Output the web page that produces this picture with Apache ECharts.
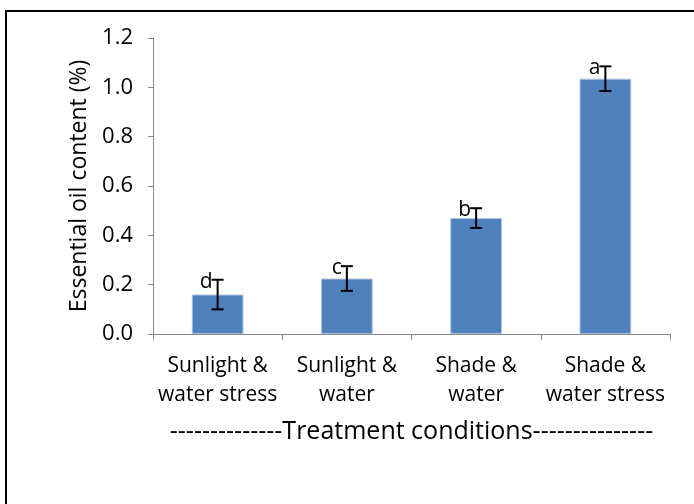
<!DOCTYPE html>
<html>
<head>
<meta charset="utf-8">
<script src="https://cdn.jsdelivr.net/npm/echarts@6/dist/echarts.min.js"></script>
<style>
  html, body { margin: 0; padding: 0; background: #fff; }
  #main { width: 694px; height: 504px; }
</style>
</head>
<body>
<div id="main"></div>
<script>
// treatment groups
var categories = ['Sunlight &\nwater stress', 'Sunlight &\nwater', 'Shade &\nwater', 'Shade &\nwater stress'];
// mean essential oil content (%)
var oilContent = [0.16, 0.225, 0.47, 1.035];
// error (+/-)
var oilError = [0.06, 0.05, 0.04, 0.05];
// significance letters
var letters = ['d', 'c', 'b', 'a'];

var errorData = oilContent.map(function (v, i) {
    return [i, v - oilError[i], v + oilError[i], letters[i]];
});

var myChart = echarts.init(document.getElementById('main'));
var font = '"Open Sans", sans-serif';

myChart.setOption({
    animation: false,
    graphic: [{
        type: 'rect',
        shape: { x: 6, y: 11, width: 800, height: 600 },
        style: { fill: 'none', stroke: '#000', lineWidth: 2 },
        silent: true
    }],
    grid: { left: 153, right: 24, top: 38, bottom: 170 },
    xAxis: {
        type: 'category',
        data: categories,
        name: '--------------Treatment conditions---------------',
        nameLocation: 'middle',
        nameGap: 85,
        nameTextStyle: { fontFamily: font, fontSize: 25, color: '#000' },
        axisLine: { lineStyle: { color: '#868686', width: 1 } },
        axisTick: { show: true, length: 6, lineStyle: { color: '#868686' } },
        axisLabel: { interval: 0, fontFamily: font, fontSize: 21, color: '#000', lineHeight: 29, margin: 18 }
    },
    yAxis: {
        type: 'value',
        min: 0,
        max: 1.2,
        interval: 0.2,
        name: 'Essential oil content (%)',
        nameLocation: 'middle',
        nameGap: 62,
        nameTextStyle: { fontFamily: font, fontSize: 23, color: '#000' },
        splitLine: { show: false },
        axisLine: { show: true, lineStyle: { color: '#868686', width: 1 } },
        axisTick: { show: true, length: 5, lineStyle: { color: '#868686' } },
        axisLabel: {
            fontFamily: font, fontSize: 22, color: '#000', margin: 20,
            formatter: function (v) { return v.toFixed(1); }
        }
    },
    series: [
        {
            type: 'bar',
            data: oilContent,
            barWidth: '40%',
            itemStyle: { color: '#4F81BD', borderColor: '#a9c1df', borderWidth: 1 }
        },
        {
            type: 'custom',
            data: errorData,
            z: 10,
            renderItem: function (params, api) {
                var lo = api.coord([api.value(0), api.value(1)]);
                var hi = api.coord([api.value(0), api.value(2)]);
                var x = lo[0];
                var half = 6;
                var st = { stroke: '#000', lineWidth: 2 };
                return {
                    type: 'group',
                    children: [
                        { type: 'line', shape: { x1: x, y1: lo[1], x2: x, y2: hi[1] }, style: st },
                        { type: 'line', shape: { x1: x - half, y1: lo[1], x2: x + half, y2: lo[1] }, style: st },
                        { type: 'line', shape: { x1: x - half, y1: hi[1], x2: x + half, y2: hi[1] }, style: st },
                        {
                            type: 'text',
                            style: {
                                text: letters[params.dataIndex],
                                x: x - 5, y: hi[1] + 2,
                                align: 'right', verticalAlign: 'middle',
                                fontFamily: font, fontSize: 21, fill: '#000'
                            }
                        }
                    ]
                };
            }
        }
    ]
});
</script>
</body>
</html>
